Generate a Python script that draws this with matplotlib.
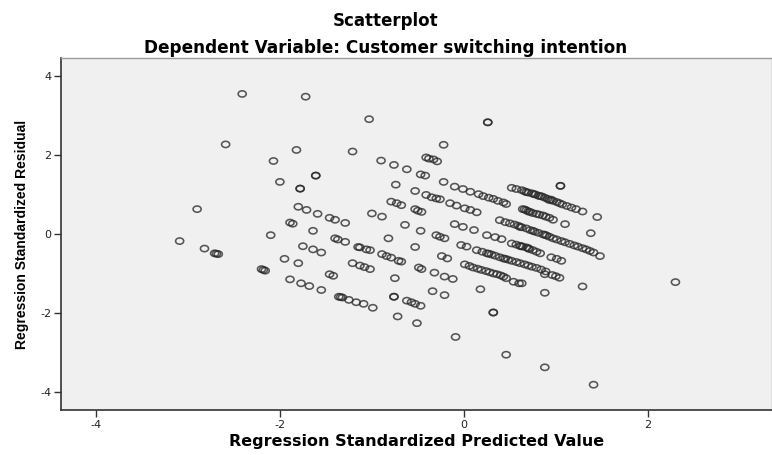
import matplotlib
matplotlib.use("Agg")
import matplotlib.pyplot as plt
from matplotlib.path import Path
import numpy as np

plt.rcParams['font.family'] = ['DejaVu Sans']
plt.rcParams['axes.unicode_minus'] = False

# standardized predicted values (x) and standardized residuals (y)
pred = [
    # outlying / scattered points
    -2.41, -1.72, -1.03, 0.26, 0.26, -2.59, -1.82, -1.21, -2.07, -0.22,
    -1.61, -1.61, -2.00, -1.78, -1.78, -2.90, -3.09, -2.82, -2.71, -2.67,
    -2.69, -2.10, -2.20, -2.16, -2.18, -1.95, -1.80, -1.89, -1.77, -1.68,
    -1.55, -1.36, -1.34, -1.32, -1.25, -1.17, -1.09, -0.99,
    # left-middle cloud
    -1.80, -1.71, -1.59, -1.46, -1.40, -1.29, -1.89, -1.86, -1.64, -1.40,
    -1.37, -1.29, -1.75, -1.64, -1.55, -1.46, -1.42, -1.21, -1.13, -1.08,
    -1.02, -1.15, -1.13, -1.06, -1.02, -1.00, -0.89,
    # centre-left cloud
    -0.90, -0.76, -0.62, -0.41, -0.38, -0.33, -0.29, -0.47, -0.42, -0.74,
    -0.22, -0.53, -0.41, -0.35, -0.30, -0.26, -0.79, -0.73, -0.68, -0.53,
    -0.50, -0.46, -0.64, -0.47, -0.30, -0.26, -0.21, -0.82, -0.53, -0.89,
    -0.84, -0.79, -0.71, -0.68, -0.24, -0.18, -0.49, -0.46, -0.32, -0.21,
    -0.12, -0.75, -0.76, -0.76, -0.62, -0.57, -0.53, -0.47, -0.34, -0.21,
    0.18, -0.72, -0.51, 0.32, 0.32, -0.09, 0.46, 0.88, 1.41, 0.88,
    1.29, 0.63, 0.54, 0.60, 2.30, 1.05, 1.05, 1.45, 1.38, 1.10,
    0.11, -0.10, -0.01, -0.03, 0.03,
    # row U1
    -0.10, -0.01, 0.07, 0.16, 0.21, 0.27, 0.32, 0.37, 0.43, 0.46,
    # row U2
    0.52, 0.57, 0.63, 0.66, 0.70, 0.74, 0.78, 0.81, 0.85, 0.88,
    0.91, 0.93, 0.97, 1.01, 1.04, 1.07, 1.12, 1.17, 1.22, 1.29,
    0.68, 0.76, 0.83, 0.95,
    # row U3
    -0.15, -0.08, 0.01, 0.07, 0.14,
    # row U4
    0.64, 0.68, 0.72, 0.75, 0.79, 0.82, 0.86, 0.89, 0.93, 0.97,
    0.66, 0.70,
    # row M1
    0.39, 0.45, 0.50, 0.55, 0.59, 0.63, 0.68, 0.72, 0.77, 0.81,
    0.86, 0.90, 0.93, 0.97, 1.01, 1.06, 1.10, 1.15, 1.20, 1.24,
    1.29, 1.33, 1.37, 1.41, 1.48, 0.61, 0.75, 0.88,
    # row M2
    0.25, 0.34, 0.41, 0.52, 0.57, 0.61, 0.64, 0.68, 0.71, 0.75,
    0.79, 0.83, 0.95, 1.01, 1.06, 0.62, 0.70,
    # row M3
    0.14, 0.20, 0.25, 0.30, 0.34, 0.39, 0.43, 0.48, 0.52, 0.57,
    0.61, 0.66, 0.70, 0.74, 0.79, 0.84, 0.89, 0.88, 0.96, 1.00,
    1.04, 0.27, 0.45,
    # row M4
    0.01, 0.06, 0.10, 0.15, 0.19, 0.24, 0.28, 0.32, 0.36, 0.40,
    0.43, 0.46,
]
resid = [
    3.55, 3.48, 2.91, 2.83, 2.83, 2.27, 2.13, 2.09, 1.85, 2.26,
    1.48, 1.48, 1.32, 1.15, 1.15, 0.63, -0.18, -0.37, -0.49, -0.51,
    -0.50, -0.03, -0.89, -0.93, -0.91, -0.63, -0.74, -1.15, -1.25, -1.32,
    -1.42, -1.59, -1.60, -1.61, -1.67, -1.73, -1.77, -1.87,
    0.69, 0.61, 0.51, 0.41, 0.36, 0.28, 0.29, 0.26, 0.08, -0.11,
    -0.14, -0.20, -0.31, -0.39, -0.47, -1.02, -1.06, -0.74, -0.80, -0.84,
    -0.89, -0.33, -0.34, -0.39, -0.41, 0.52, 0.44,
    1.86, 1.75, 1.64, 1.94, 1.91, 1.89, 1.84, 1.51, 1.48, 1.25,
    1.32, 1.09, 0.99, 0.93, 0.90, 0.88, 0.82, 0.78, 0.73, 0.63,
    0.59, 0.56, 0.23, 0.08, -0.03, -0.07, -0.11, -0.11, -0.33, -0.51,
    -0.56, -0.60, -0.68, -0.70, -0.56, -0.62, -0.85, -0.89, -0.98, -1.08,
    -1.14, -1.12, -1.59, -1.59, -1.69, -1.73, -1.77, -1.82, -1.45, -1.55,
    -1.40, -2.09, -2.26, -1.99, -1.99, -2.61, -3.06, -3.38, -3.82, -1.49,
    -1.33, -1.25, -1.21, -1.25, -1.22, 1.22, 1.22, 0.43, 0.02, 0.25,
    0.10, 0.25, 0.18, -0.28, -0.32,
    1.20, 1.14, 1.07, 1.01, 0.96, 0.92, 0.89, 0.84, 0.80, 0.76,
    1.17, 1.14, 1.11, 1.08, 1.05, 1.03, 1.00, 0.97, 0.95, 0.92,
    0.89, 0.86, 0.84, 0.81, 0.78, 0.75, 0.71, 0.67, 0.63, 0.57,
    1.06, 1.01, 0.96, 0.87,
    0.78, 0.72, 0.65, 0.61, 0.55,
    0.63, 0.60, 0.56, 0.53, 0.51, 0.49, 0.47, 0.44, 0.41, 0.36,
    0.62, 0.57,
    0.35, 0.30, 0.27, 0.24, 0.21, 0.17, 0.14, 0.10, 0.06, 0.03,
    -0.01, -0.04, -0.07, -0.11, -0.14, -0.18, -0.21, -0.25, -0.29, -0.32,
    -0.36, -0.39, -0.43, -0.47, -0.56, 0.18, 0.08, -0.02,
    -0.03, -0.08, -0.13, -0.24, -0.27, -0.30, -0.32, -0.34, -0.38, -0.41,
    -0.45, -0.49, -0.59, -0.63, -0.68, -0.31, -0.36,
    -0.41, -0.45, -0.49, -0.52, -0.55, -0.59, -0.62, -0.65, -0.68, -0.71,
    -0.74, -0.77, -0.80, -0.83, -0.86, -0.90, -0.95, -1.02, -1.04, -1.07,
    -1.11, -0.50, -0.63,
    -0.77, -0.81, -0.85, -0.88, -0.91, -0.94, -0.97, -1.00, -1.02, -1.05,
    -1.08, -1.12,
]

x_ticks = [-4, -2, 0, 2]
y_ticks = [-4, -2, 0, 2, 4]

# the source image is stretched sideways, so its circles are slightly oval
circ = Path.unit_circle()
oval = Path(circ.vertices * np.array([1.3, 1.0]), circ.codes)

fig = plt.figure(figsize=(7.72, 4.55), dpi=100)
ax = fig.add_axes([0.079, 0.099, 0.921, 0.7735])
ax.set_facecolor('#f0f0f0')

ax.scatter(pred, resid, s=34, marker=oval, facecolors='none',
           edgecolors='#2a2a2a', linewidths=1.15, alpha=0.78)

ax.set_xlim(-4.38, 3.35)
ax.set_ylim(-4.46, 4.46)
ax.set_xticks(x_ticks)
ax.set_yticks(y_ticks)
ax.tick_params(direction='out', length=5, width=1, colors='#333333',
               labelsize=8, labelcolor='#222222', pad=2)

for side in ['top', 'right']:
    ax.spines[side].set_color('#9a9a9a')
    ax.spines[side].set_linewidth(1)
for side in ['left', 'bottom']:
    ax.spines[side].set_color('#333333')
    ax.spines[side].set_linewidth(1.2)

ax.set_xlabel('Regression Standardized Predicted Value', fontsize=11.5,
              fontweight='bold', labelpad=3)
ax.set_ylabel('Regression Standardized Residual', fontsize=10,
              fontweight='bold', labelpad=8, family='Liberation Sans')

fig.text(0.5, 0.953, 'Scatterplot', ha='center', va='center',
         fontsize=12, fontweight='bold')
fig.text(0.5, 0.895, 'Dependent Variable: Customer switching intention',
         ha='center', va='center', fontsize=12.2, fontweight='bold')

plt.savefig('out.png', dpi=100)
